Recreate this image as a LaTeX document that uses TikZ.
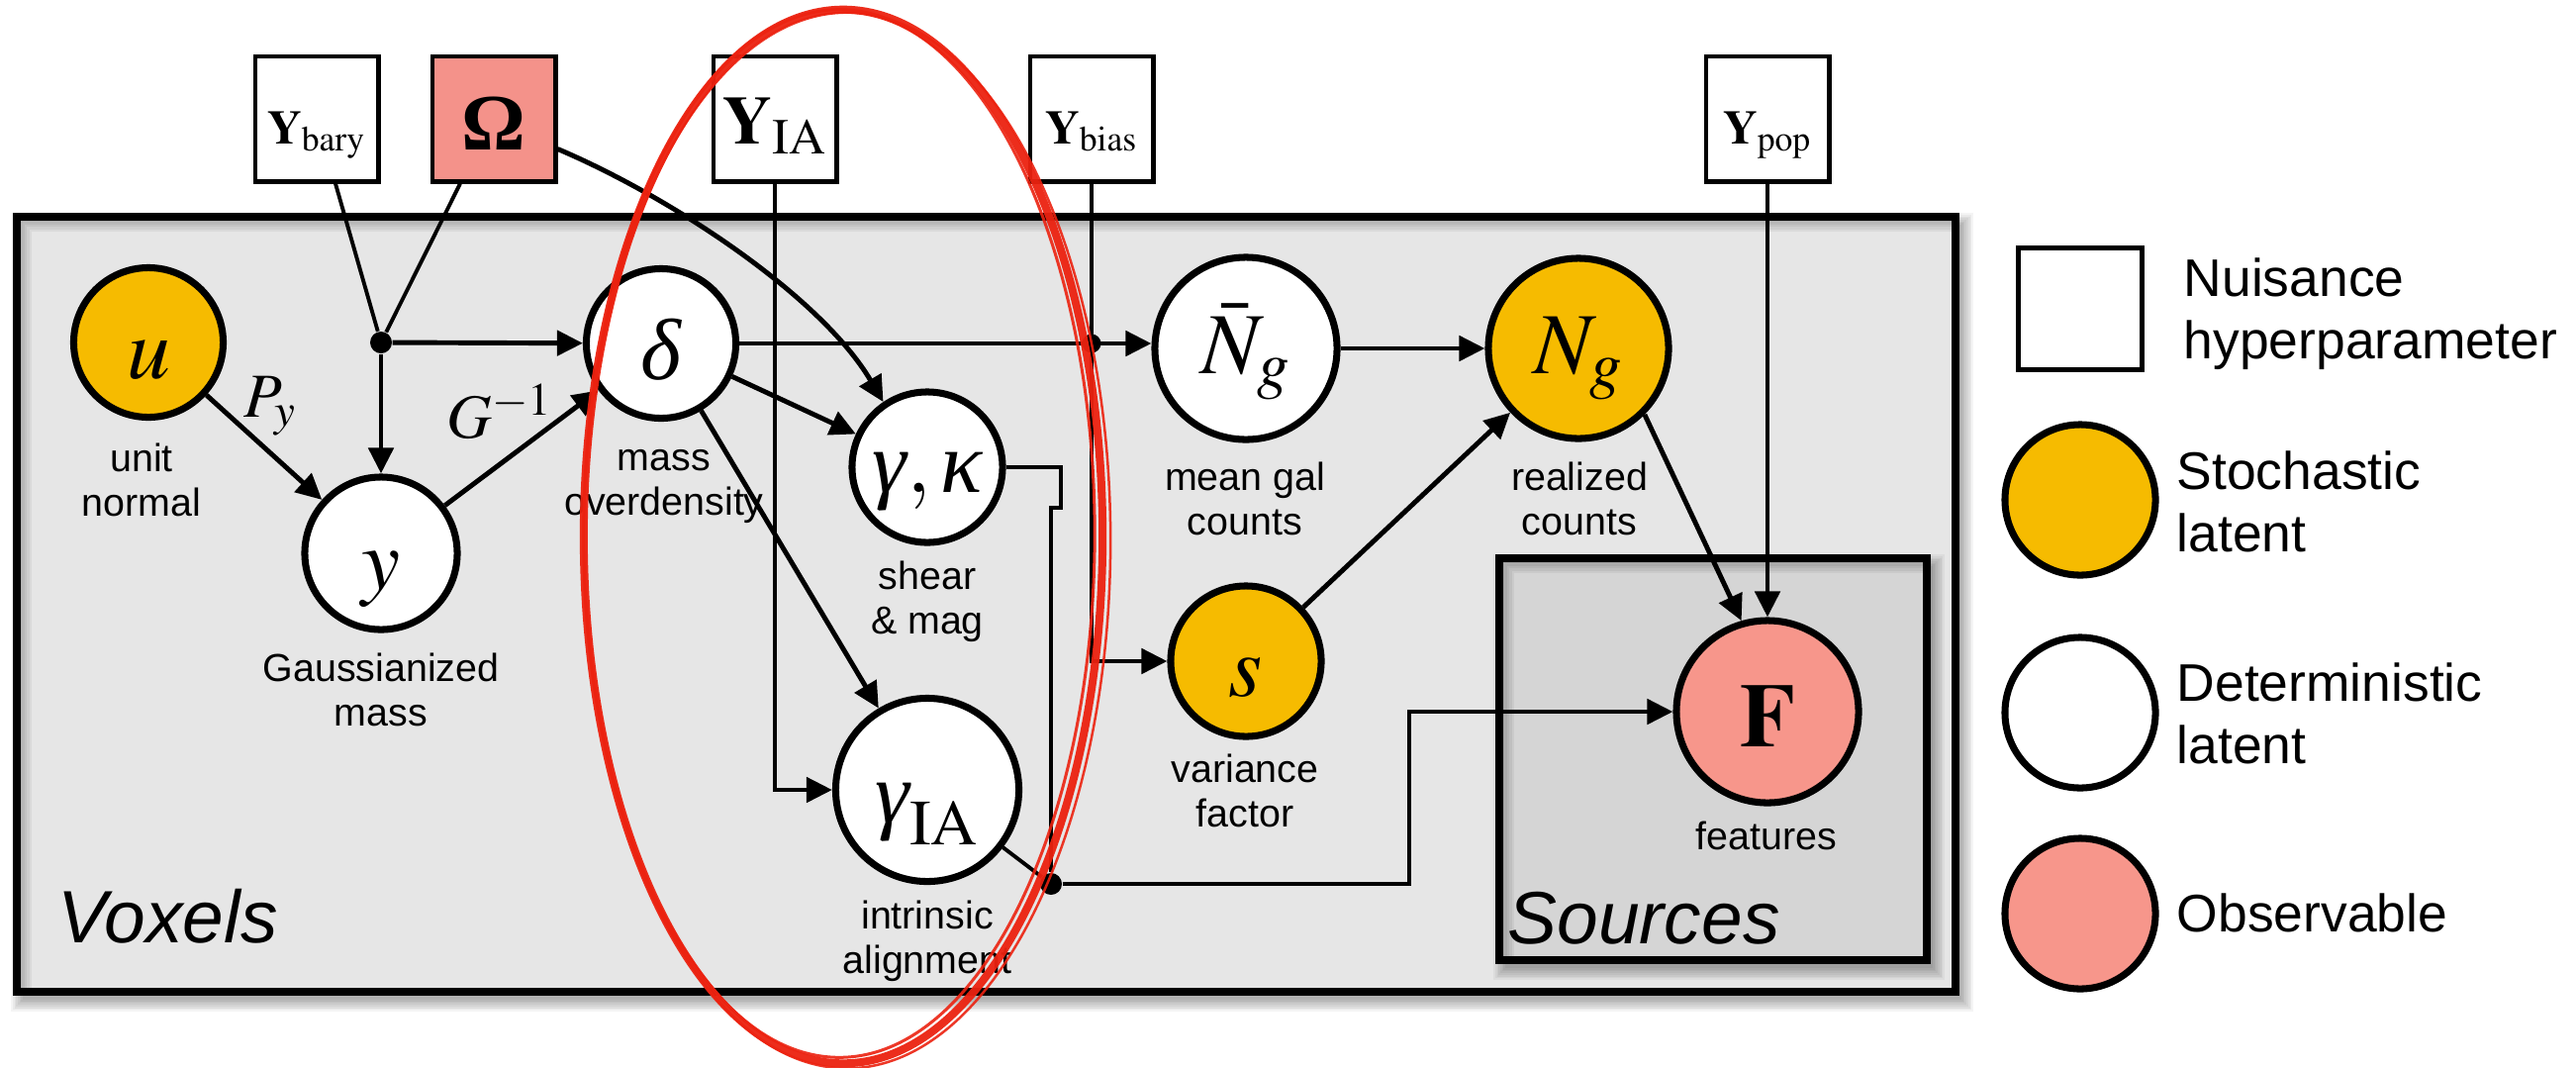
\documentclass[tikz,border=0pt]{standalone}
\usepackage{mathptmx}
\usepackage[no-math]{fontspec}
\setmainfont{Liberation Sans}
\newfontfamily\timesfont{Liberation Serif}
\usetikzlibrary{calc,arrows.meta}

% italic serif Greek letters taken from the text font
\newcommand\itgreek[1]{\mbox{\timesfont\itshape #1}}

\definecolor{gold}{HTML}{F6BB00}
\definecolor{salmon}{HTML}{F7968B}
\definecolor{omegafill}{HTML}{F4928A}
\definecolor{platefill}{HTML}{E6E6E6}
\definecolor{innerfill}{HTML}{D5D5D5}
\definecolor{marker}{HTML}{EC2210}

\tikzset{
  latent/.style={circle, draw, line width=2pt, inner sep=0pt, text depth=0pt,
    font=\fontsize{25}{30}\selectfont},
  stoch/.style={latent, fill=gold},
  det/.style={latent, fill=white},
  obs/.style={latent, fill=salmon},
  hyper/.style={rectangle, draw, line width=1.4pt, fill=white, inner sep=0pt,
    minimum width=1.24cm, minimum height=1.26cm, text height=0.5cm, text depth=0pt,
    font=\fontsize{13.7}{16}\selectfont},
  arrow/.style={line width=1.4pt, -{Triangle[length=0.26cm, width=0.25cm]}},
  link/.style={line width=1.1pt},
  dot/.style={circle, fill=black, inner sep=0pt, minimum size=0.22cm},
  caption/.style={font=\fontsize{11.2}{12.8}\selectfont, align=center, anchor=base, inner sep=0pt},
  edgelabel/.style={font=\fontsize{18}{21}\selectfont, anchor=base west, inner sep=0pt},
  plate/.style={draw, line width=2.1pt},
  platename/.style={font=\fontsize{21.3}{25}\selectfont\itshape, anchor=base west, inner sep=0pt},
  legendtext/.style={font=\fontsize{15.2}{17.9}\selectfont, align=left, anchor=base west, inner sep=0pt},
}

% plate with soft drop shadow and inner shadow: x1, y1, x2, y2, fill
\newcommand\platebox[5]{%
  \foreach \k in {0,...,7}
    \fill[black, opacity=0.045] ({#1+6-1.7*\k},{#2+8-1.7*\k}) rectangle ({#3+6+1.7*\k},{#4+8+1.7*\k});
  \fill[#5] (#1,#2) rectangle (#3,#4);
  \begin{scope}
    \clip (#1,#2) rectangle (#3,#4);
    \foreach \k in {1,...,6}
      \draw[black, opacity=0.05, line width={\k*0.05cm}] (#1,#4) -- (#1,#2) -- (#3,#2);
  \end{scope}
  \draw[plate] (#1,#2) rectangle (#3,#4);
}

\begin{document}
\begin{tikzpicture}[x=0.01cm, y=-0.01cm]
\useasboundingbox (0,0) rectangle (2603,1078);
\fill[white] (0,0) rectangle (2603,1078);

% plates
\platebox{17}{219}{1976}{1002}{platefill}
\platebox{1515}{564}{1947}{970}{innerfill}
\node[platename] (voxels) at (58,952) {Voxels};
\node[platename] (sources) at (1523,953) {Sources};

% nuisance hyperparameters
\node[hyper] (ybary) at (320,120) {$\mathbf{Y}_{\mathrm{bary}}$};
\node[hyper, fill=omegafill, text height=0.62cm, font=\fontsize{23}{26}\selectfont] (omega) at (499,120) {\timesfont\bfseries Ω};
\node[hyper, font=\fontsize{19.6}{23}\selectfont] (yia) at (783,120) {$\mathbf{Y}_{\mathrm{IA}}$};
\node[hyper] (ybias) at (1103,120) {$\mathbf{Y}_{\mathrm{bias}}$};
\node[hyper] (ypop) at (1786,120) {$\mathbf{Y}_{\mathrm{pop}}$};

% latent and observed variables
\node[stoch, minimum size=1.51cm, text height=0.72cm] (u) at (150,346) {$u$};
\node[det, minimum size=1.54cm, text height=0.72cm] (y) at (385,559) {$y$};
\node[det, minimum size=1.51cm, text height=0.72cm] (delta) at (668,347) {$\itgreek{δ}$};
\node[det, minimum size=1.52cm, text height=0.5cm] (gk) at (937,472) {$\itgreek{γ},\itgreek{κ}$};
\node[det, minimum size=1.85cm, text height=0.66cm] (gia) at (937,798) {$\itgreek{γ}_{\mathrm{IA}}$};
\node[det, minimum size=1.84cm, text height=0.5cm] (nbar) at (1259,352) {$\bar{N}_g$};
\node[stoch, minimum size=1.82cm, text height=0.5cm] (ng) at (1595,352) {$N_g$};
\node[stoch, minimum size=1.52cm, text height=0.70cm] (s) at (1259,668) {$s$};
\node[obs, minimum size=1.84cm, text height=0.70cm, font=\fontsize{26}{30}\selectfont] (f) at (1786,719) {$\mathbf{F}$};

% captions (anchored on the baseline of their last line)
\node[caption] (cap-u) at (143,521) {unit\\normal};
\node[caption] (cap-y) at (385,733) {Gaussianized\\mass};
\node[caption] (cap-delta) at (671,520) {mass\\overdensity};
\node[caption] (cap-gk) at (937,640) {shear\\\& mag};
\node[caption] (cap-gia) at (937,983) {intrinsic\\alignment};
\node[caption] (cap-nbar) at (1258,540) {mean gal\\counts};
\node[caption] (cap-ng) at (1596,540) {realized\\counts};
\node[caption] (cap-s) at (1258,835) {variance\\factor};
\node[caption] (cap-f) at (1785,858) {features};

% junctions
\node[dot] (jb) at (385,346) {};
\node[dot, minimum size=0.19cm] (jbias) at (ybias.south |- delta) {};
\node[dot] (jia) at (1062,893) {};
\coordinate (jog) at (1072,513);
\coordinate (fbend) at (1424,893);

% connectors
\draw[link] ($(ybary.south)+(19,0)$) -- (jb);
\draw[link] ($(omega.south)+(-34,0)$) -- (jb);
\draw[arrow] (jb) -- (delta);
\draw[arrow] (jb) -- (y);
\draw[arrow] (u) -- (y);
\draw[arrow] (y) -- (delta);
\draw[arrow] ($(omega.south east)+(0,-35)$) .. controls (680,200) and (830,300) .. (gk.124);
\draw[arrow] (delta) -- (gk);
\draw[arrow] (delta) -- (gia);
\draw[arrow] (delta.east) -- (delta.east -| nbar.west);
\draw[arrow] (ybias.south) |- (s.west);
\draw[arrow] (yia.south) |- (gia.west);
\draw[link] (gk.east) -| (jog) -| (jia);
\draw[link] (gia) -- (jia);
\draw[arrow] (jia) -- (fbend) |- (f.west);
\draw[arrow] (nbar) -- (ng);
\draw[arrow] (s) -- (ng);
\draw[arrow] (ng.-45) -- (f.106);
\draw[arrow] (ypop) -- (f);

% edge labels
\node[edgelabel] (lbl-py) at (246,421) {$P_y$};
\node[edgelabel] (lbl-ginv) at (451,442) {$G^{-1}$};

% legend
\node[hyper, minimum width=1.25cm, minimum height=1.23cm, text height=0pt] (leg-hyper) at (2102,312) {};
\node[legendtext] (leg-hyper-text) at (2206,362) {Nuisance\\hyperparameter};
\node[stoch, minimum size=1.52cm] (leg-stoch) at (2102,505) {};
\node[legendtext] (leg-stoch-text) at (2199,557) {Stochastic\\latent};
\node[det, minimum size=1.52cm] (leg-det) at (2102,720) {};
\node[legendtext] (leg-det-text) at (2199,771) {Deterministic\\latent};
\node[obs, minimum size=1.52cm] (leg-obs) at (2102,923) {};
\node[legendtext] (leg-obs-text) at (2199,941) {Observable};

% hand-drawn marker loop
\draw[marker, line width=0.08cm, opacity=0.95] (852,542) ellipse [x radius=2.62cm, y radius=5.32cm];
\draw[marker, line width=0.03cm, opacity=0.9] (848,539) ellipse [x radius=2.58cm, y radius=5.29cm];
\draw[marker, line width=0.025cm, opacity=0.9] (856,546) ellipse [x radius=2.66cm, y radius=5.33cm];
\end{tikzpicture}
\end{document}
